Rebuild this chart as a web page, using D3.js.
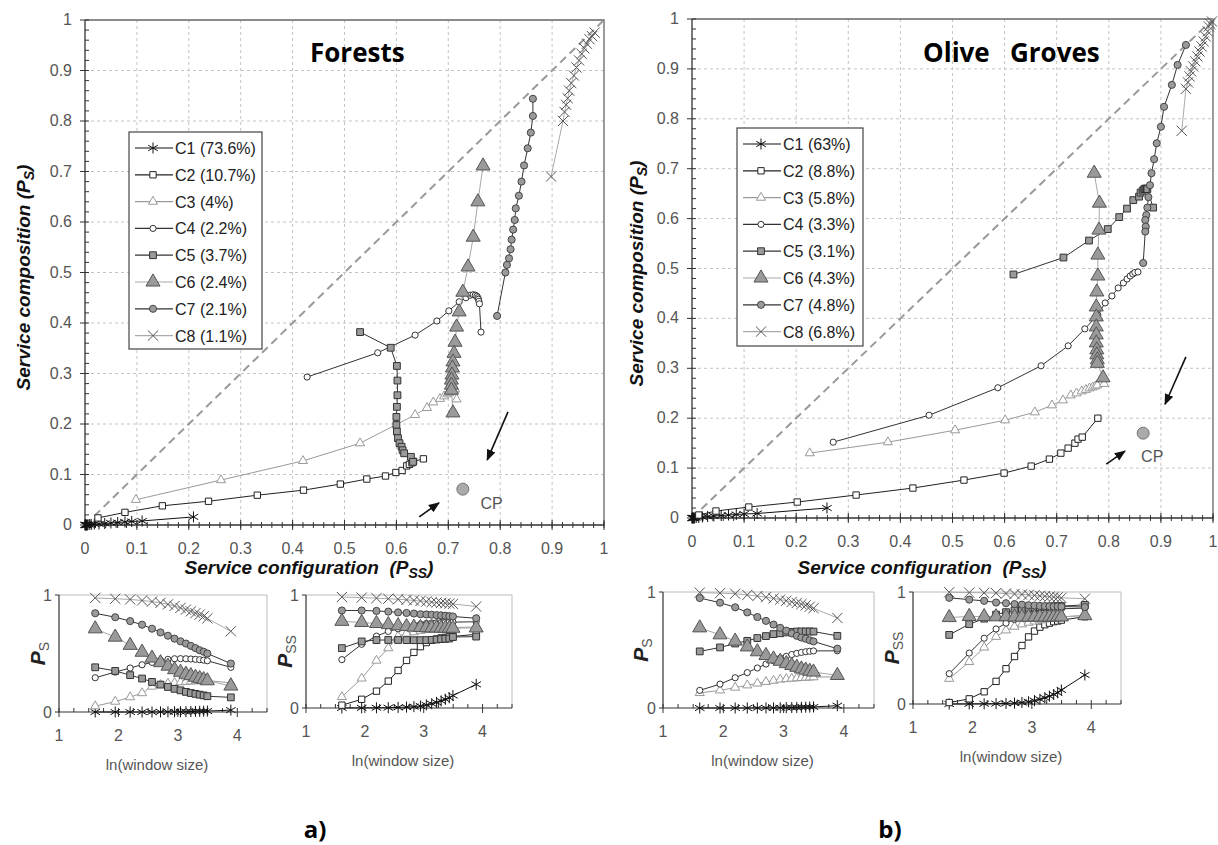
<!DOCTYPE html>
<html>
<head>
<meta charset="utf-8">
<script src="https://cdn.jsdelivr.net/npm/d3@7"></script>
<style>
 body { margin: 0; background: #fff; }
 svg { display: block; font-family: "Liberation Sans", Arial, sans-serif; }
</style>
</head>
<body>
<svg id="chart" width="1218" height="845"></svg>
<script>
// window sizes used for the moving-window analysis (x of the small panels is ln of these)
const windowSizes = [5, 7, 9, 11, 13, 15, 17, 19, 21, 23, 25, 27, 29, 31, 33, 49];
const classNames = ["C1", "C2", "C3", "C4", "C5", "C6", "C7", "C8"];
const forestShare = ["73.6%", "10.7%", "4%", "2.2%", "3.7%", "2.4%", "2.1%", "1.1%"];
const oliveShare = ["63%", "8.8%", "5.8%", "3.3%", "3.1%", "4.3%", "4.8%", "6.8%"];

// Forests: service composition Ps, one row per class, one value per window size
const forestPs = [
 [0, 0, 0, 0, 0, 0.001, 0.001, 0.002, 0.002, 0.003, 0.004, 0.005, 0.006, 0.007, 0.008, 0.016],
 [0.014, 0.025, 0.038, 0.047, 0.059, 0.069, 0.081, 0.091, 0.097, 0.104, 0.108, 0.117, 0.120, 0.123, 0.126, 0.131],
 [0.050, 0.089, 0.127, 0.162, 0.218, 0.232, 0.243, 0.250, 0.255, 0.259, 0.262, 0.264, 0.266, 0.268, 0.269, 0.249],
 [0.293, 0.341, 0.376, 0.404, 0.424, 0.442, 0.450, 0.455, 0.456, 0.455, 0.453, 0.450, 0.447, 0.443, 0.438, 0.382],
 [0.382, 0.351, 0.315, 0.286, 0.257, 0.234, 0.214, 0.198, 0.185, 0.172, 0.162, 0.155, 0.148, 0.142, 0.135, 0.125],
 [0.711, 0.640, 0.570, 0.511, 0.461, 0.422, 0.392, 0.362, 0.340, 0.323, 0.311, 0.297, 0.287, 0.277, 0.267, 0.222],
 [0.844, 0.810, 0.777, 0.746, 0.712, 0.680, 0.652, 0.627, 0.604, 0.585, 0.565, 0.546, 0.528, 0.515, 0.500, 0.414],
 [0.975, 0.968, 0.962, 0.953, 0.944, 0.933, 0.920, 0.906, 0.890, 0.875, 0.860, 0.845, 0.832, 0.818, 0.800, 0.690]
];
// Forests: service configuration Pss
const forestPss = [
 [0, 0.001, 0.002, 0.003, 0.005, 0.008, 0.012, 0.018, 0.027, 0.038, 0.050, 0.063, 0.077, 0.090, 0.110, 0.209],
 [0.025, 0.077, 0.149, 0.238, 0.332, 0.421, 0.492, 0.543, 0.579, 0.599, 0.611, 0.620, 0.625, 0.630, 0.633, 0.652],
 [0.098, 0.262, 0.420, 0.530, 0.636, 0.659, 0.671, 0.684, 0.692, 0.698, 0.702, 0.706, 0.709, 0.711, 0.713, 0.716],
 [0.428, 0.564, 0.636, 0.678, 0.701, 0.721, 0.734, 0.742, 0.748, 0.752, 0.755, 0.757, 0.758, 0.759, 0.760, 0.763],
 [0.530, 0.589, 0.601, 0.602, 0.602, 0.601, 0.600, 0.600, 0.601, 0.603, 0.606, 0.610, 0.612, 0.615, 0.628, 0.632],
 [0.767, 0.757, 0.748, 0.738, 0.728, 0.721, 0.716, 0.713, 0.711, 0.709, 0.708, 0.707, 0.706, 0.706, 0.706, 0.709],
 [0.863, 0.863, 0.859, 0.853, 0.846, 0.841, 0.836, 0.830, 0.828, 0.825, 0.822, 0.820, 0.817, 0.813, 0.810, 0.794],
 [0.982, 0.977, 0.972, 0.967, 0.962, 0.957, 0.952, 0.947, 0.942, 0.937, 0.933, 0.930, 0.927, 0.924, 0.921, 0.898]
];

// Olive groves: Ps
const olivePs = [
 [0, 0, 0, 0, 0, 0.001, 0.001, 0.002, 0.003, 0.004, 0.005, 0.006, 0.007, 0.008, 0.009, 0.020],
 [0.006, 0.014, 0.022, 0.032, 0.046, 0.060, 0.076, 0.090, 0.104, 0.118, 0.130, 0.140, 0.150, 0.158, 0.162, 0.200],
 [0.130, 0.152, 0.176, 0.196, 0.212, 0.226, 0.236, 0.246, 0.250, 0.254, 0.257, 0.260, 0.262, 0.264, 0.266, 0.269],
 [0.152, 0.206, 0.261, 0.305, 0.345, 0.379, 0.407, 0.431, 0.445, 0.461, 0.471, 0.479, 0.485, 0.489, 0.492, 0.493],
 [0.488, 0.522, 0.556, 0.579, 0.603, 0.620, 0.637, 0.644, 0.652, 0.656, 0.659, 0.660, 0.660, 0.660, 0.659, 0.622],
 [0.691, 0.631, 0.577, 0.527, 0.485, 0.453, 0.423, 0.403, 0.383, 0.367, 0.351, 0.337, 0.327, 0.317, 0.310, 0.281],
 [0.948, 0.908, 0.868, 0.824, 0.784, 0.751, 0.719, 0.691, 0.667, 0.643, 0.622, 0.607, 0.597, 0.584, 0.574, 0.511],
 [0.995, 0.990, 0.985, 0.975, 0.965, 0.955, 0.945, 0.935, 0.925, 0.915, 0.905, 0.895, 0.885, 0.873, 0.860, 0.776]
];
// Olive groves: Pss
const olivePss = [
 [0, 0.001, 0.002, 0.003, 0.005, 0.008, 0.013, 0.020, 0.030, 0.042, 0.056, 0.070, 0.085, 0.100, 0.125, 0.259],
 [0.013, 0.046, 0.109, 0.202, 0.315, 0.424, 0.522, 0.599, 0.651, 0.686, 0.708, 0.722, 0.735, 0.741, 0.749, 0.779],
 [0.226, 0.376, 0.505, 0.601, 0.658, 0.691, 0.712, 0.727, 0.738, 0.748, 0.756, 0.763, 0.769, 0.774, 0.778, 0.791],
 [0.271, 0.455, 0.587, 0.670, 0.722, 0.754, 0.779, 0.793, 0.806, 0.818, 0.828, 0.835, 0.841, 0.846, 0.850, 0.856],
 [0.617, 0.713, 0.762, 0.798, 0.820, 0.835, 0.847, 0.858, 0.861, 0.865, 0.868, 0.870, 0.872, 0.873, 0.874, 0.885],
 [0.772, 0.782, 0.781, 0.779, 0.779, 0.777, 0.776, 0.776, 0.776, 0.776, 0.776, 0.777, 0.777, 0.778, 0.778, 0.789],
 [0.948, 0.932, 0.921, 0.906, 0.900, 0.892, 0.887, 0.882, 0.879, 0.876, 0.874, 0.872, 0.870, 0.871, 0.870, 0.866],
 [0.998, 0.995, 0.992, 0.990, 0.986, 0.982, 0.978, 0.974, 0.970, 0.966, 0.962, 0.958, 0.955, 0.952, 0.948, 0.940]
];

// CP point [Pss, Ps] and the two arrows pointing at it [x1, y1, x2, y2]
const forestCP = [0.728, 0.071];
const oliveCP = [0.866, 0.170];
const forestArrows = [[0.644, 0.016, 0.682, 0.044], [0.815, 0.224, 0.775, 0.129]];
const oliveArrows = [[0.795, 0.108, 0.831, 0.134], [0.948, 0.323, 0.908, 0.228]];

const mainTicks = [0, 0.1, 0.2, 0.3, 0.4, 0.5, 0.6, 0.7, 0.8, 0.9, 1];
const smallXTicks = [1, 2, 3, 4];
const smallYTicks = [0, 1];
// classes shown in the small Ps panels (C2 is left out there in the original)
const psPanelClasses = [0, 2, 3, 4, 5, 6, 7];
const pssPanelClasses = [0, 1, 2, 3, 4, 5, 6, 7];

// marker look of each class
const styles = [
 { type: d3.symbolAsterisk, size: 85, fill: "none", stroke: "#111", line: "#111" },
 { type: d3.symbolSquare, size: 40, fill: "#fff", stroke: "#222", line: "#222" },
 { type: d3.symbolTriangle, size: 36, fill: "#fff", stroke: "#999", line: "#9a9a9a" },
 { type: d3.symbolCircle, size: 30, fill: "#fff", stroke: "#333", line: "#333" },
 { type: d3.symbolSquare, size: 46, fill: "#9a9a9a", stroke: "#333", line: "#333" },
 { type: d3.symbolTriangle, size: 85, fill: "#9a9a9a", stroke: "#555", line: "#a8a8a8" },
 { type: d3.symbolCircle, size: 40, fill: "#9a9a9a", stroke: "#444", line: "#333" },
 { type: d3.symbolTimes, size: 70, fill: "none", stroke: "#555", line: "#aaa" }
];

const svg = d3.select("#chart");
const defs = svg.append("defs");
defs.append("marker").attr("id", "arrowhead")
 .attr("viewBox", "0 0 10 10").attr("refX", 9).attr("refY", 5)
 .attr("markerWidth", 7).attr("markerHeight", 7).attr("orient", "auto")
 .append("path").attr("d", "M0,1L10,5L0,9Z").attr("fill", "#111");

function drawMarkers(g, pts, st) {
 g.selectAll("path.m").data(pts).join("path")
 .attr("class", "m")
 .attr("transform", d => `translate(${d[0]},${d[1]})`)
 .attr("d", d3.symbol().type(st.type).size(st.size))
 .attr("fill", st.fill)
 .attr("stroke", st.stroke)
 .attr("stroke-width", 1);
}

function drawMain(box, ps, pss, shares, cp, arrows, opt) {
 const g = svg.append("g");
 const x = d3.scaleLinear([0, 1], [box.l, box.r]);
 const y = d3.scaleLinear([0, 1], [box.b, box.t]);
 const fmt = d3.format("~g");

 // dashed grid
 g.append("g").selectAll("line").data(mainTicks.slice(1, -1)).join("line")
 .attr("x1", d => x(d)).attr("x2", d => x(d)).attr("y1", box.t).attr("y2", box.b)
 .attr("stroke", "#c4c4c4").attr("stroke-dasharray", "3,3");
 g.append("g").selectAll("line").data(mainTicks.slice(1, -1)).join("line")
 .attr("y1", d => y(d)).attr("y2", d => y(d)).attr("x1", box.l).attr("x2", box.r)
 .attr("stroke", "#c4c4c4").attr("stroke-dasharray", "3,3");

 // frame
 g.append("path").attr("d", `M${box.l},${box.t}H${box.r}V${box.b}`)
 .attr("fill", "none").attr("stroke", "#666").attr("stroke-width", 1.3);
 g.append("path").attr("d", `M${box.l},${box.t}V${box.b}H${box.r}`)
 .attr("fill", "none").attr("stroke", "#333").attr("stroke-width", 1.3);

 // ticks
 const minor = d3.range(0, 51).map(i => i / 50);
 g.append("g").selectAll("line").data(minor).join("line")
 .attr("x1", box.l).attr("x2", box.l + 4).attr("y1", d => y(d)).attr("y2", d => y(d))
 .attr("stroke", "#333");
 g.append("g").selectAll("line").data(mainTicks).join("line")
 .attr("x1", box.l - 5).attr("x2", box.l).attr("y1", d => y(d)).attr("y2", d => y(d))
 .attr("stroke", "#333");
 g.append("g").selectAll("line").data(minor).join("line")
 .attr("x1", d => x(d)).attr("x2", d => x(d)).attr("y1", box.b - 3).attr("y2", box.b + 3)
 .attr("stroke", "#333");
 g.append("g").selectAll("line").data(mainTicks).join("line")
 .attr("x1", d => x(d)).attr("x2", d => x(d)).attr("y1", box.b - 5).attr("y2", box.b + 5)
 .attr("stroke", "#333");

 g.append("g").selectAll("text").data(mainTicks).join("text")
 .attr("x", box.l - 13).attr("y", d => y(d) + 5).attr("text-anchor", "end")
 .attr("font-size", 16).attr("fill", "#555").text(fmt);
 g.append("g").selectAll("text").data(mainTicks).join("text")
 .attr("x", d => x(d)).attr("y", box.b + 29).attr("text-anchor", "middle")
 .attr("font-size", 16).attr("fill", "#555").text(fmt);

 // 1:1 line
 g.append("line").attr("x1", x(0)).attr("y1", y(0)).attr("x2", x(1)).attr("y2", y(1))
 .attr("stroke", "#999").attr("stroke-width", 2).attr("stroke-dasharray", "8,5");

 // series
 const line = d3.line();
 classNames.forEach((c, k) => {
 const pts = windowSizes.map((w, i) => [x(pss[k][i]), y(ps[k][i])]);
 const sg = g.append("g");
 sg.append("path").attr("d", line(pts)).attr("fill", "none")
 .attr("stroke", styles[k].line).attr("stroke-width", 1);
 drawMarkers(sg, pts, styles[k]);
 });

 // legend
 const lb = opt.legend;
 const lg = g.append("g");
 lg.append("rect").attr("x", lb.x).attr("y", lb.y).attr("width", lb.w).attr("height", lb.h)
 .attr("fill", "#fff").attr("stroke", "#444").attr("stroke-width", 1.2);
 classNames.forEach((c, k) => {
 const cy = lb.y + 16 + k * 26.8;
 lg.append("line").attr("x1", lb.x + 6).attr("x2", lb.x + 44).attr("y1", cy).attr("y2", cy)
 .attr("stroke", styles[k].line).attr("stroke-width", 1.2);
 drawMarkers(lg.append("g"), [[lb.x + 24, cy]], styles[k]);
 lg.append("text").attr("x", lb.x + 46).attr("y", cy + 6)
 .attr("font-size", 16).attr("fill", "#222").text(`${c} (${shares[k]})`);
 });

 // CP point and arrows
 g.append("circle").attr("cx", x(cp[0])).attr("cy", y(cp[1])).attr("r", 6)
 .attr("fill", "#aaa").attr("stroke", "#777");
 g.append("text").attr("x", x(opt.cpText[0])).attr("y", y(opt.cpText[1]))
 .attr("font-size", 16).attr("fill", "#555").text("CP");
 g.append("g").selectAll("line").data(arrows).join("line")
 .attr("x1", d => x(d[0])).attr("y1", d => y(d[1]))
 .attr("x2", d => x(d[2])).attr("y2", d => y(d[3]))
 .attr("stroke", "#111").attr("stroke-width", 1.6).attr("marker-end", "url(#arrowhead)");

 // titles
 g.append("text").attr("x", opt.titleX).attr("y", 62)
 .attr("font-family", "'Open Sans', sans-serif").attr("font-weight", 700)
 .attr("font-size", 26).attr("fill", "#000").style("white-space", "pre")
 .text(opt.title);

 const xt = g.append("text").attr("x", opt.xTitleX).attr("y", 574).attr("text-anchor", "middle")
 .attr("font-size", 19).attr("font-weight", 700).attr("font-style", "italic")
 .attr("fill", "#111").style("white-space", "pre");
 xt.append("tspan").text("Service configuration  (P");
 xt.append("tspan").attr("dy", 4).attr("font-size", 14).text("SS");
 xt.append("tspan").attr("dy", -4).text(")");

 const yt = g.append("text")
 .attr("transform", `translate(${opt.yTitleX},${(box.t + box.b) / 2 + 5}) rotate(-90)`)
 .attr("text-anchor", "middle")
 .attr("font-size", 19).attr("font-weight", 700).attr("font-style", "italic")
 .attr("fill", "#111");
 yt.append("tspan").text("Service composition (P");
 yt.append("tspan").attr("dy", 4).attr("font-size", 14).text("S");
 yt.append("tspan").attr("dy", -4).text(")");
}

function drawSmall(box, values, shown, sub, labelX) {
 const g = svg.append("g");
 const x = d3.scaleLinear([1, 4.5], [box.l, box.r]);
 const y = d3.scaleLinear([0, 1], [box.b, box.t]);

 g.append("path").attr("d", `M${box.l},${box.t}H${box.r}V${box.b}`)
 .attr("fill", "none").attr("stroke", "#bbb");
 g.append("path").attr("d", `M${box.l},${box.t}V${box.b}H${box.r}`)
 .attr("fill", "none").attr("stroke", "#333").attr("stroke-width", 1.2);

 const minor = d3.range(0, 15).map(i => 1 + i * 0.25);
 g.append("g").selectAll("line").data(minor).join("line")
 .attr("x1", d => x(d)).attr("x2", d => x(d)).attr("y1", box.b - 4).attr("y2", box.b)
 .attr("stroke", "#333");
 g.append("g").selectAll("line").data(smallXTicks).join("line")
 .attr("x1", d => x(d)).attr("x2", d => x(d)).attr("y1", box.b).attr("y2", box.b + 5)
 .attr("stroke", "#333");
 g.append("g").selectAll("line").data(smallYTicks).join("line")
 .attr("x1", box.l - 4).attr("x2", box.l).attr("y1", d => y(d)).attr("y2", d => y(d))
 .attr("stroke", "#333");

 g.append("g").selectAll("text").data(smallXTicks).join("text")
 .attr("x", d => x(d)).attr("y", box.b + 29).attr("text-anchor", "middle")
 .attr("font-size", 16).attr("fill", "#555").text(d => d);
 g.append("g").selectAll("text").data(smallYTicks).join("text")
 .attr("x", box.l - 7).attr("y", d => y(d) + 6).attr("text-anchor", "end")
 .attr("font-size", 16).attr("fill", "#555").text(d => d);

 g.append("text").attr("x", (box.l + box.r) / 2 - 6).attr("y", box.b + 58)
 .attr("text-anchor", "middle").attr("font-size", 15).attr("fill", "#555")
 .text("ln(window size)");

 const yl = g.append("text")
 .attr("transform", `translate(${labelX},${(box.t + box.b) / 2}) rotate(-90)`)
 .attr("text-anchor", "middle").attr("fill", "#222");
 yl.append("tspan").attr("font-size", 21).attr("font-weight", 700).attr("font-style", "italic").text("P");
 yl.append("tspan").attr("dy", 4).attr("font-size", 14).attr("fill", "#555").text(sub);

 const line = d3.line();
 shown.forEach(k => {
 const pts = windowSizes.map((w, i) => [x(Math.log(w)), y(values[k][i])]);
 const sg = g.append("g");
 sg.append("path").attr("d", line(pts)).attr("fill", "none")
 .attr("stroke", styles[k].line).attr("stroke-width", 1);
 drawMarkers(sg, pts, styles[k]);
 });
}

drawMain({ l: 85, r: 604, t: 20, b: 525 }, forestPs, forestPss, forestShare, forestCP, forestArrows, {
 legend: { x: 129, y: 132, w: 133, h: 217 },
 cpText: [0.762, 0.032],
 title: "Forests", titleX: 310, xTitleX: 309, yTitleX: 30
});
drawMain({ l: 692, r: 1213, t: 19, b: 518 }, olivePs, olivePss, oliveShare, oliveCP, oliveArrows, {
 legend: { x: 737, y: 128, w: 126, h: 218 },
 cpText: [0.862, 0.112],
 title: "Olive   Groves", titleX: 923, xTitleX: 922, yTitleX: 643
});

drawSmall({ l: 59, r: 267, t: 595, b: 712 }, forestPs, psPanelClasses, "S", 45);
drawSmall({ l: 306, r: 512, t: 595, b: 708 }, forestPss, pssPanelClasses, "SS", 292);
drawSmall({ l: 663, r: 874, t: 592, b: 708 }, olivePs, psPanelClasses, "S", 648);
drawSmall({ l: 913, r: 1121, t: 592, b: 704 }, olivePss, pssPanelClasses, "SS", 899);

svg.append("text").attr("x", 315).attr("y", 838).attr("text-anchor", "middle")
 .attr("font-family", "'Open Sans', sans-serif").attr("font-weight", 700).attr("font-size", 24)
 .text("a)");
svg.append("text").attr("x", 890).attr("y", 838).attr("text-anchor", "middle")
 .attr("font-family", "'Open Sans', sans-serif").attr("font-weight", 700).attr("font-size", 24)
 .text("b)");
</script>
</body>
</html>
